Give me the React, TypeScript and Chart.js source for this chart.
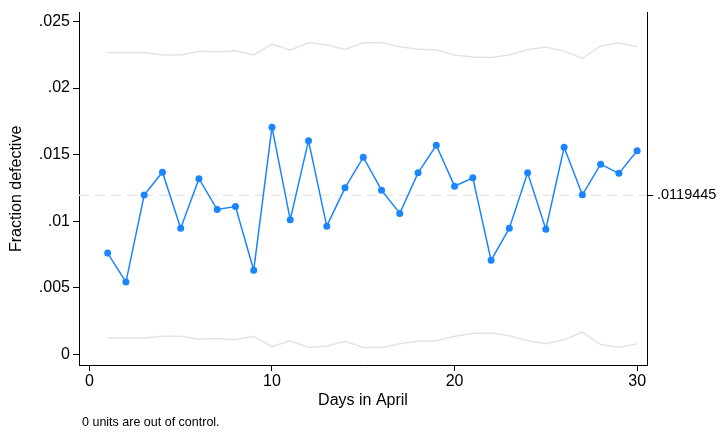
import React, { useEffect, useRef } from "react";
import { Chart, registerables } from "chart.js";

Chart.register(...registerables);

const days = [1, 2, 3, 4, 5, 6, 7, 8, 9, 10, 11, 12, 13, 14, 15, 16, 17, 18, 19, 20, 21, 22, 23, 24, 25, 26, 27, 28, 29, 30];
const fractionDefective = [
  0.0076, 0.00542, 0.01196, 0.01368, 0.00947, 0.01319, 0.01087, 0.01109, 0.00631, 0.01706,
  0.01011, 0.01605, 0.00962, 0.0125, 0.01481, 0.01233, 0.01058, 0.01363, 0.0157, 0.01263,
  0.01326, 0.00705, 0.00947, 0.01363, 0.00939, 0.01555, 0.01198, 0.01428, 0.01359, 0.01529,
];
const upperLimit = [
  0.02268, 0.02268, 0.02268, 0.02249, 0.02249, 0.02276, 0.02271, 0.0228, 0.02249, 0.0233,
  0.02286, 0.0234, 0.02325, 0.02291, 0.0234, 0.0234, 0.0231, 0.02291, 0.02286, 0.02249,
  0.02234, 0.02229, 0.02249, 0.02288, 0.02308, 0.02278, 0.02224, 0.02317, 0.0234, 0.0231,
];
const lowerLimit = [
  0.00121, 0.00121, 0.00121, 0.00135, 0.00135, 0.00113, 0.00118, 0.00109, 0.00135, 0.00057,
  0.00101, 0.0005, 0.00061, 0.00096, 0.0005, 0.0005, 0.00079, 0.00098, 0.00101, 0.00135,
  0.00155, 0.0016, 0.00138, 0.00101, 0.00079, 0.00109, 0.00165, 0.00072, 0.00052, 0.00076,
];
const centerValue = 0.0119445;
const centerLabel = ".0119445";
const yTickValues = [0, 0.005, 0.01, 0.015, 0.02, 0.025];
const yTickLabels = ["0", ".005", ".01", ".015", ".02", ".025"];
const xTickValues = [0, 10, 20, 30];
const xTickLabels = ["0", "10", "20", "30"];
const xTitle = "Days in April";
const yTitle = "Fraction defective";
const footnote = "0 units are out of control.";

const X_MIN = -0.57;
const X_MAX = 30.54;
const Y_MIN = -0.000814;
const Y_MAX = 0.025666;

const FONT = "'Liberation Sans', Arial, Helvetica, sans-serif";

export default function App() {
  const ref = useRef<HTMLCanvasElement | null>(null);

  useEffect(() => {
    document.body.style.margin = "0";
    const canvas = ref.current;
    if (!canvas) return;

    const footnotePlugin = {
      id: "footnote",
      afterDraw(chart: any) {
        const ctx = chart.ctx;
        ctx.save();
        ctx.font = `12.5px ${FONT}`;
        ctx.fillStyle = "#000";
        ctx.textAlign = "left";
        ctx.textBaseline = "alphabetic";
        ctx.fillText(footnote, 82, 426);
        ctx.restore();
      },
    };

    const chart = new Chart(canvas, {
      type: "line",
      data: {
        datasets: [
          {
            label: "data",
            data: days.map((d, i) => ({ x: d, y: fractionDefective[i] })),
            borderColor: "#1a85ff",
            backgroundColor: "#1a85ff",
            borderWidth: 1.5,
            pointRadius: 3.5,
            pointBorderWidth: 0,
            tension: 0,
            order: 0,
          },
          {
            label: "ucl",
            data: days.map((d, i) => ({ x: d, y: upperLimit[i] })),
            borderColor: "#e3e3e3",
            borderWidth: 1.5,
            pointRadius: 0,
            tension: 0,
            order: 2,
          },
          {
            label: "lcl",
            data: days.map((d, i) => ({ x: d, y: lowerLimit[i] })),
            borderColor: "#e3e3e3",
            borderWidth: 1.5,
            pointRadius: 0,
            tension: 0,
            order: 2,
          },
          {
            label: "center",
            data: [
              { x: X_MIN, y: centerValue },
              { x: X_MAX, y: centerValue },
            ],
            borderColor: "#e8e8e8",
            borderWidth: 1.5,
            borderDash: [10, 6],
            pointRadius: 0,
            order: 3,
          },
        ],
      },
      options: {
        responsive: false,
        animation: false,
        layout: { padding: { top: 7, left: 0, right: 0, bottom: 0 } },
        plugins: {
          legend: { display: false },
          tooltip: { enabled: false },
        },
        scales: {
          x: {
            type: "linear",
            min: X_MIN,
            max: X_MAX,
            afterBuildTicks: (s: any) => {
              s.ticks = xTickValues.map((v) => ({ value: v }));
            },
            afterFit: (s: any) => {
              s.height = 67;
            },
            ticks: {
              autoSkip: false,
              maxRotation: 0,
              padding: 1,
              color: "#000",
              font: { family: FONT, size: 16 },
              callback: (v: any) => {
                const i = xTickValues.indexOf(Number(v));
                return i >= 0 ? xTickLabels[i] : "";
              },
            },
            grid: { display: true, drawOnChartArea: false, tickLength: 6, color: "#000", lineWidth: 1 },
            border: { display: true, color: "#000", width: 1 },
            title: {
              display: true,
              text: xTitle,
              color: "#000",
              font: { family: FONT, size: 16 },
              padding: { top: 0, bottom: 22 },
            },
          },
          y: {
            type: "linear",
            position: "left",
            min: Y_MIN,
            max: Y_MAX,
            afterBuildTicks: (s: any) => {
              s.ticks = yTickValues.map((v) => ({ value: v }));
            },
            afterFit: (s: any) => {
              s.width = 79;
            },
            ticks: {
              autoSkip: false,
              padding: 3,
              color: "#000",
              font: { family: FONT, size: 16 },
              callback: (v: any) => {
                const i = yTickValues.indexOf(Number(v));
                return i >= 0 ? yTickLabels[i] : "";
              },
            },
            grid: { display: true, drawOnChartArea: false, tickLength: 6, color: "#000", lineWidth: 1 },
            border: { display: true, color: "#000", width: 1 },
            title: {
              display: true,
              text: yTitle,
              color: "#000",
              font: { family: FONT, size: 16 },
              padding: { top: 7, bottom: 0 },
            },
          },
          y2: {
            type: "linear",
            position: "right",
            min: Y_MIN,
            max: Y_MAX,
            afterBuildTicks: (s: any) => {
              s.ticks = [{ value: centerValue }];
            },
            afterFit: (s: any) => {
              s.width = 78;
            },
            ticks: {
              autoSkip: false,
              padding: 4,
              color: "#000",
              font: { family: FONT, size: 14.5 },
              callback: () => centerLabel,
            },
            grid: { display: true, drawOnChartArea: false, tickLength: 6, color: "#000", lineWidth: 1 },
            border: { display: true, color: "#000", width: 1 },
          },
        },
      } as any,
      plugins: [footnotePlugin],
    });

    return () => chart.destroy();
  }, []);

  return (
    <div style={{ width: 725, height: 432, background: "#fff" }}>
      <canvas ref={ref} width={725} height={432} style={{ display: "block" }} />
    </div>
  );
}
